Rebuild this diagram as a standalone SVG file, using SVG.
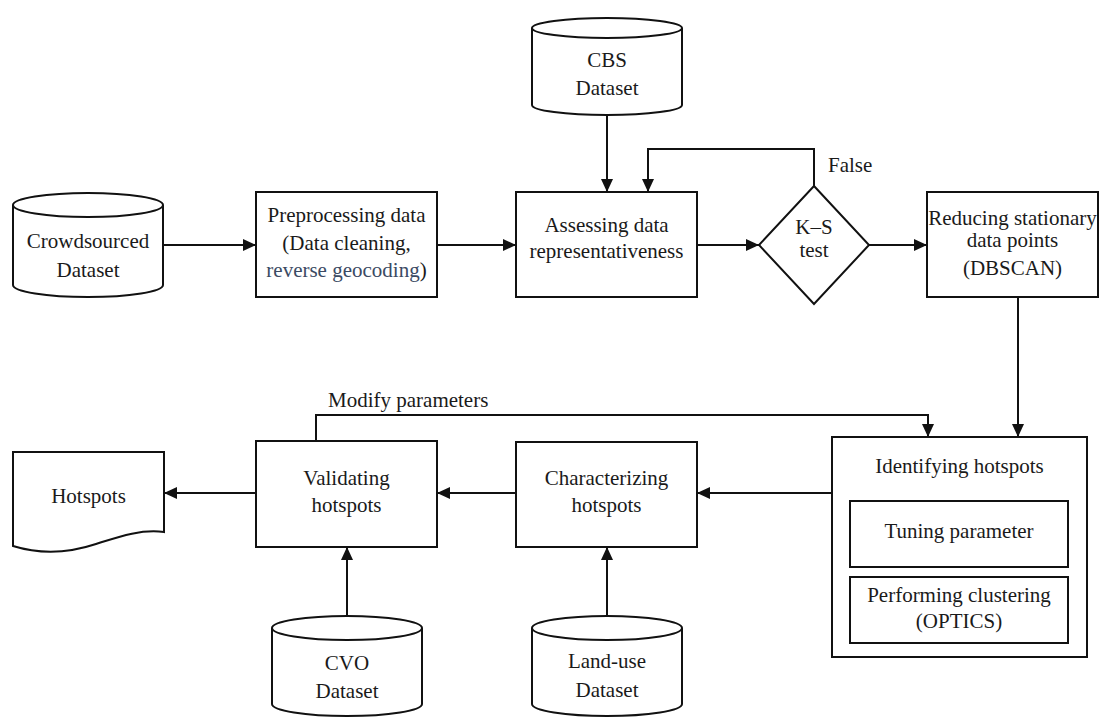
<svg xmlns="http://www.w3.org/2000/svg" width="1102" height="717" viewBox="0 0 1102 717">
<defs>
<style>
.s{fill:#fff;stroke:#111;stroke-width:2}
.t{font-family:"Liberation Serif","Times New Roman",serif;font-size:21px;fill:#1a1a1a;text-anchor:middle}
.l{font-family:"Liberation Serif","Times New Roman",serif;font-size:21px;fill:#1a1a1a}
.c{fill:none;stroke:#111;stroke-width:2}
</style>
<marker id="ah" markerUnits="userSpaceOnUse" markerWidth="14" markerHeight="12" refX="13" refY="6" orient="auto">
<path d="M0,0 L13,6 L0,12 z" fill="#111"/>
</marker>
</defs>
<rect width="1102" height="717" fill="#fff"/>

<g id="crowdsourced">
<path class="s" d="M13,205 V285 A75,12 0 0 0 163,285 V205"/>
<ellipse class="s" cx="88" cy="205" rx="75" ry="12"/>
<text class="t" x="88" y="248">Crowdsourced</text>
<text class="t" x="88" y="277">Dataset</text>
</g>

<g id="preprocessing">
<rect class="s" x="256" y="192" width="181" height="105"/>
<text class="t" x="346.5" y="222">Preprocessing data</text>
<text class="t" x="346.5" y="250">(Data cleaning,</text>
<text class="t" x="346.5" y="277"><tspan fill="#3b4a63">reverse geocoding</tspan>)</text>
</g>

<g id="cbs">
<path class="s" d="M532,28 V105 A75,10 0 0 0 682,105 V28"/>
<ellipse class="s" cx="607" cy="28" rx="75" ry="10"/>
<text class="t" x="607" y="67">CBS</text>
<text class="t" x="607" y="95">Dataset</text>
</g>

<g id="assessing">
<rect class="s" x="516" y="192" width="181" height="105"/>
<text class="t" x="606.5" y="232">Assessing data</text>
<text class="t" x="606.5" y="258">representativeness</text>
</g>

<g id="ks-test">
<polygon class="s" points="814,186 869,245 814,304 759,245"/>
<text class="t" x="814" y="234">K–S</text>
<text class="t" x="814" y="257">test</text>
</g>

<g id="reducing">
<rect class="s" x="927" y="192" width="171" height="105"/>
<text class="t" x="1012.5" y="225">Reducing stationary</text>
<text class="t" x="1012.5" y="247">data points</text>
<text class="t" x="1012.5" y="275">(DBSCAN)</text>
</g>

<g id="identifying">
<rect class="s" x="832" y="437" width="255" height="220"/>
<text class="t" x="959.5" y="473">Identifying hotspots</text>
<rect class="s" x="850" y="501" width="218" height="66"/>
<text class="t" x="959" y="538">Tuning parameter</text>
<rect class="s" x="850" y="577" width="218" height="66"/>
<text class="t" x="959" y="602">Performing clustering</text>
<text class="t" x="959" y="628">(OPTICS)</text>
</g>

<g id="characterizing">
<rect class="s" x="516" y="442" width="181" height="105"/>
<text class="t" x="606.5" y="485">Characterizing</text>
<text class="t" x="606.5" y="512">hotspots</text>
</g>

<g id="validating">
<rect class="s" x="256" y="441" width="181" height="106"/>
<text class="t" x="346.5" y="485">Validating</text>
<text class="t" x="346.5" y="512">hotspots</text>
</g>

<g id="hotspots">
<path class="s" d="M13,452 H164 V532 C140,529 118,537 96,544 C72,552 42,555 13,546 Z"/>
<text class="t" x="88.5" y="503">Hotspots</text>
</g>

<g id="cvo">
<path class="s" d="M272,628 V704 A75,12 0 0 0 422,704 V628"/>
<ellipse class="s" cx="347" cy="628" rx="75" ry="12"/>
<text class="t" x="347" y="670">CVO</text>
<text class="t" x="347" y="698">Dataset</text>
</g>

<g id="landuse">
<path class="s" d="M532,628 V704 A75,12 0 0 0 682,704 V628"/>
<ellipse class="s" cx="607" cy="628" rx="75" ry="12"/>
<text class="t" x="607" y="668">Land-use</text>
<text class="t" x="607" y="697">Dataset</text>
</g>

<g id="connectors">
<path class="c" d="M163,245 H256" marker-end="url(#ah)"/>
<path class="c" d="M437,245 H516" marker-end="url(#ah)"/>
<path class="c" d="M607,115 V192" marker-end="url(#ah)"/>
<path class="c" d="M814,186 V149 H648 V192" marker-end="url(#ah)"/>
<path class="c" d="M697,245 H759" marker-end="url(#ah)"/>
<path class="c" d="M869,245 H927" marker-end="url(#ah)"/>
<path class="c" d="M1018,297 V437" marker-end="url(#ah)"/>
<path class="c" d="M316,441 V415 H928 V437" marker-end="url(#ah)"/>
<path class="c" d="M832,493 H697" marker-end="url(#ah)"/>
<path class="c" d="M516,493 H437" marker-end="url(#ah)"/>
<path class="c" d="M256,493 H164" marker-end="url(#ah)"/>
<path class="c" d="M347,616 V547" marker-end="url(#ah)"/>
<path class="c" d="M607,616 V547" marker-end="url(#ah)"/>
<text class="l" x="828" y="172">False</text>
<text class="l" x="328" y="407">Modify parameters</text>
</g>
</svg>
